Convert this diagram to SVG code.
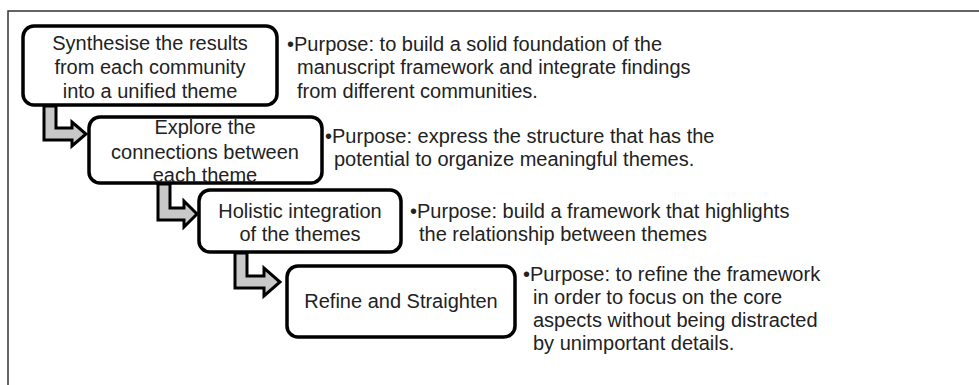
<svg xmlns="http://www.w3.org/2000/svg" width="979" height="385" viewBox="0 0 979 385">
<style>
.box{fill:#fff;stroke:#000;stroke-width:3.5}
.arr{fill:#c8c8c8;stroke:#000;stroke-width:3;stroke-linejoin:miter}
text{font-family:"Liberation Sans",Arial,sans-serif;font-size:20px;fill:#222}
.c{text-anchor:middle}
</style>
<rect width="979" height="385" fill="#fff"/>
<path d="M8,385 V11 H979" fill="none" stroke="#333" stroke-width="1.5"/>
<g id="connectors">
<path class="arr" d="M44,106 L56,106 L56,128 L72,128 L72,122 L86,134 L72,146 L72,140 L44,140 Z"/>
<path class="arr" d="M158,184 L170,184 L170,208 L184,208 L184,201 L197,214 L184,227 L184,220 L158,220 Z"/>
<path class="arr" d="M235,253 L247,253 L247,276 L264,276 L264,268 L280,282 L264,296 L264,288 L235,288 Z"/>
</g>
<g id="node1">
<rect class="box" x="23" y="26" width="254" height="79" rx="11"/>
<text class="c" x="150" y="50">Synthesise the results</text>
<text class="c" x="150" y="74">from each community</text>
<text class="c" x="150" y="98">into a unified theme</text>
</g>
<g id="note1">
<text x="287" y="51">•Purpose: to build a solid foundation of the</text>
<text x="297" y="74">manuscript framework and integrate findings</text>
<text x="297" y="98">from different communities.</text>
</g>
<g id="node2">
<rect class="box" x="89" y="117" width="233" height="66" rx="11"/>
<text class="c" x="205" y="134">Explore the</text>
<text class="c" x="205" y="159">connections between</text>
<text class="c" x="205" y="182">each theme</text>
</g>
<g id="note2">
<text x="325" y="143">•Purpose: express the structure that has the</text>
<text x="334" y="166">potential to organize meaningful themes.</text>
</g>
<g id="node3">
<rect class="box" x="199" y="190" width="202" height="62" rx="11"/>
<text class="c" x="300" y="218">Holistic integration</text>
<text class="c" x="300" y="241">of the themes</text>
</g>
<g id="note3">
<text x="410" y="218">•Purpose: build a framework that highlights</text>
<text x="419" y="241">the relationship between themes</text>
</g>
<g id="node4">
<rect class="box" x="287" y="266" width="228" height="71" rx="11"/>
<text class="c" x="401" y="308">Refine and Straighten</text>
</g>
<g id="note4">
<text x="523" y="281">•Purpose: to refine the framework</text>
<text x="533" y="304">in order to focus on the core</text>
<text x="533" y="327">aspects without being distracted</text>
<text x="533" y="350">by unimportant details.</text>
</g>
</svg>
